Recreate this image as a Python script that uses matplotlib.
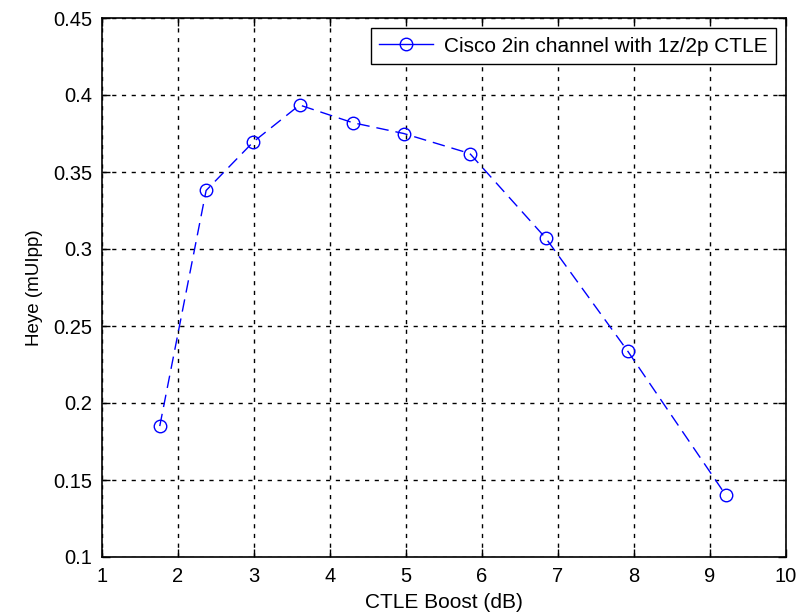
import matplotlib
matplotlib.use("Agg")
import matplotlib.pyplot as plt
from matplotlib.lines import Line2D

boost_db = [1.76, 2.37, 2.99, 3.60, 4.30, 4.97, 5.84, 6.84, 7.92, 9.21]
heye = [0.185, 0.338, 0.3695, 0.3935, 0.382, 0.375, 0.362, 0.307, 0.2335, 0.140]
series_label = "Cisco 2in channel with 1z/2p CTLE"
x_ticks = [1, 2, 3, 4, 5, 6, 7, 8, 9, 10]
y_ticks = [0.1, 0.15, 0.2, 0.25, 0.3, 0.35, 0.4, 0.45]
y_tick_labels = ["0.1", "0.15", "0.2", "0.25", "0.3", "0.35", "0.4", "0.45"]

plt.rcParams['font.family'] = ['Liberation Sans', 'DejaVu Sans']

fig = plt.figure(figsize=(8.04, 6.13), dpi=100)
ax = fig.add_axes([102/804, 56/613, 684/804, 539/613])

ax.plot(boost_db, heye, color='blue', linestyle=(0, (9, 5)), linewidth=1.0,
        marker='o', markersize=9, markerfacecolor='none', markeredgecolor='blue',
        markeredgewidth=1.0)

ax.set_xlim(1, 10)
ax.set_ylim(0.1, 0.45)
ax.set_xticks(x_ticks)
ax.set_xticklabels([str(v) for v in x_ticks])
ax.set_yticks(y_ticks)
ax.set_yticklabels(y_tick_labels)
ax.grid(True, color='black', linestyle=(0, (3, 4)), linewidth=1.0)
ax.set_axisbelow(True)
ax.tick_params(direction='in', top=True, right=True, length=6, width=1,
               labelsize=14.5, pad=7)
for s in ax.spines.values():
    s.set_linewidth(1.2)

ax.set_xlabel("CTLE Boost (dB)", fontsize=15, labelpad=5)
ax.set_ylabel("Heye (mUIpp)", fontsize=13.5, labelpad=7)

handle = Line2D([0], [0], color='blue', linestyle='-', linewidth=1.0, marker='o',
                markersize=9, markerfacecolor='none', markeredgecolor='blue')
leg = ax.legend([handle], [series_label], loc='upper right', fontsize=15,
                fancybox=False, framealpha=1, edgecolor='black',
                borderaxespad=0.5, handlelength=2.6, handletextpad=0.5,
                borderpad=0.4)
leg.get_frame().set_linewidth(1.0)

fig.savefig("out.png", dpi=100)
